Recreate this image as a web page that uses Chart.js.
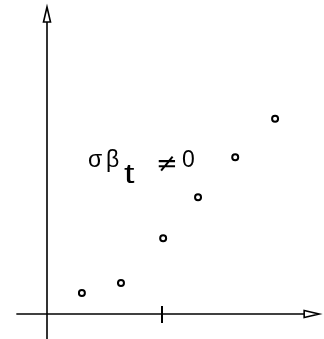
<!DOCTYPE html>
<html>
<head>
<meta charset="utf-8">
<script src="https://cdn.jsdelivr.net/npm/chart.js@4"></script>
<style>
  html, body { margin: 0; padding: 0; background: #fff; }
  #wrap { width: 324px; height: 339px; }
</style>
</head>
<body>
<div id="wrap"><canvas id="grafico"></canvas></div>
<script>
// pontos medidos (x, y)
const valoresX = [0.91, 1.93, 3.03, 3.94, 4.91, 5.95];
const valoresY = [0.53, 0.78, 1.9, 2.93, 3.93, 4.9];
const marcaX = 3;             // traço no eixo x
const rotulo = ["σ", "β", "t", "≠", "0"];

const pontos = valoresX.map((x, i) => ({ x: x, y: valoresY[i] }));

// eixos com setas e o rótulo, desenhados à mão por cima
const eixosPlugin = {
  id: "eixos",
  afterDatasetsDraw(chart) {
    const ctx = chart.ctx;
    const sx = chart.scales.x;
    const sy = chart.scales.y;
    const x0 = sx.getPixelForValue(0);
    const y0 = sy.getPixelForValue(0);

    ctx.save();
    ctx.strokeStyle = "#000";
    ctx.fillStyle = "#fff";
    ctx.lineWidth = 1.6;
    ctx.lineJoin = "miter";

    // eixo y
    const topoY = sy.getPixelForValue(7.7);
    ctx.beginPath();
    ctx.moveTo(x0, chart.height);
    ctx.lineTo(x0, topoY + 14);
    ctx.stroke();
    ctx.beginPath();
    ctx.moveTo(x0, topoY);
    ctx.lineTo(x0 - 3.5, topoY + 15);
    ctx.lineTo(x0 + 3.5, topoY + 15);
    ctx.closePath();
    ctx.fill();
    ctx.stroke();

    // eixo x
    const fimX = sx.getPixelForValue(7.1);
    ctx.beginPath();
    ctx.moveTo(sx.getPixelForValue(-0.8), y0);
    ctx.lineTo(fimX - 14, y0);
    ctx.stroke();
    ctx.beginPath();
    ctx.moveTo(fimX, y0);
    ctx.lineTo(fimX - 15, y0 - 3.5);
    ctx.lineTo(fimX - 15, y0 + 3.5);
    ctx.closePath();
    ctx.fill();
    ctx.stroke();

    // traço
    const xm = sx.getPixelForValue(marcaX);
    ctx.lineWidth = 2;
    ctx.beginPath();
    ctx.moveTo(xm, y0 - 8);
    ctx.lineTo(xm, y0 + 9);
    ctx.stroke();

    // σβt ≠ 0
    const bx = sx.getPixelForValue(1.07);
    const by = sy.getPixelForValue(3.7);
    ctx.fillStyle = "#000";
    ctx.textBaseline = "alphabetic";
    ctx.font = "23px 'Liberation Sans', Arial, sans-serif";
    ctx.fillText(rotulo[0], bx, by);
    ctx.fillText(rotulo[1], bx + 18, by);
    // "t" mais largo, como escrito à mão
    ctx.save();
    ctx.translate(bx + 36, by + 16);
    ctx.scale(1.4, 1);
    ctx.font = "27px 'Liberation Sans', Arial, sans-serif";
    ctx.fillText(rotulo[2], 0, 0);
    ctx.restore();
    ctx.font = "26px 'DejaVu Sans', sans-serif";
    ctx.fillText(rotulo[3], bx + 68, by + 5);
    ctx.font = "23px 'Liberation Sans', Arial, sans-serif";
    ctx.fillText(rotulo[4], bx + 94, by);
    ctx.restore();
  }
};

new Chart(document.getElementById("grafico"), {
  type: "scatter",
  data: {
    datasets: [{
      data: pontos,
      pointRadius: 3,
      pointHoverRadius: 3,
      pointBorderWidth: 2,
      pointBorderColor: "#000",
      pointBackgroundColor: "#fff"
    }]
  },
  options: {
    responsive: true,
    maintainAspectRatio: false,
    animation: false,
    events: [],
    layout: { padding: { left: 8.67, right: 8.67, top: 5, bottom: 4 } },
    plugins: { legend: { display: false }, tooltip: { enabled: false } },
    scales: {
      x: { type: "linear", min: -1, max: 7, display: false },
      y: { type: "linear", min: -0.5, max: 7.75, display: false }
    }
  },
  plugins: [eixosPlugin]
});
</script>
</body>
</html>
